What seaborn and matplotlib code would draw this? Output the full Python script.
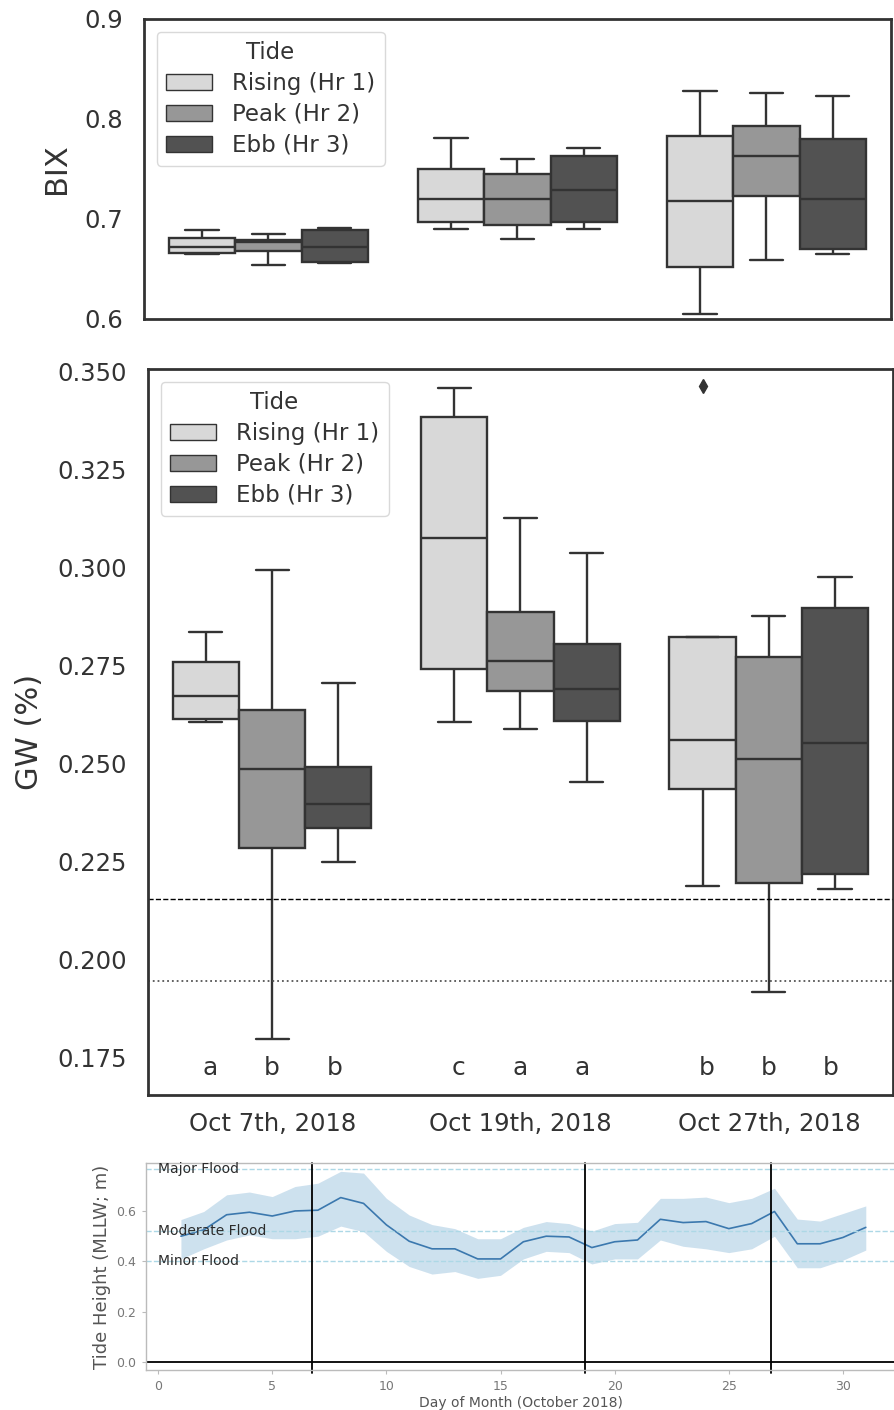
import numpy as np
import pandas as pd
import matplotlib
matplotlib.use("Agg")
import matplotlib.pyplot as plt
import seaborn as sns

# categories
dates = ["Oct 7th, 2018", "Oct 19th, 2018", "Oct 27th, 2018"]
tides = ["Rising (Hr 1)", "Peak (Hr 2)", "Ebb (Hr 3)"]
tide_colors = ["#d8d8d8", "#979797", "#525252"]

# BIX box summaries per date: (lower whisker, q1, median, q3, upper whisker)
bix_rising = [(0.6647, 0.6657, 0.6717, 0.6807, 0.6887),
              (0.6897, 0.6967, 0.7200, 0.7500, 0.7807),
              (0.6050, 0.6523, 0.7180, 0.7833, 0.8283)]
bix_peak = [(0.6540, 0.6680, 0.6770, 0.6790, 0.6850),
            (0.6797, 0.6940, 0.7200, 0.7450, 0.7597),
            (0.6590, 0.7233, 0.7633, 0.7933, 0.8263)]
bix_ebb = [(0.6557, 0.6573, 0.6717, 0.6890, 0.6907),
           (0.6897, 0.6970, 0.7290, 0.7633, 0.7707),
           (0.6650, 0.6697, 0.7200, 0.7800, 0.8230)]

# GW box summaries per date
gw_rising = [(0.2605, 0.2612, 0.2673, 0.2758, 0.2836),
             (0.2605, 0.2740, 0.3075, 0.3385, 0.3459),
             (0.2187, 0.2434, 0.2560, 0.2822, 0.2822)]
gw_peak = [(0.1795, 0.2285, 0.2485, 0.2636, 0.2994),
           (0.2588, 0.2685, 0.2762, 0.2886, 0.3127),
           (0.1915, 0.2194, 0.2511, 0.2771, 0.2877)]
gw_ebb = [(0.2249, 0.2336, 0.2395, 0.2490, 0.2704),
          (0.2453, 0.2609, 0.2690, 0.2805, 0.3038),
          (0.2178, 0.2217, 0.2551, 0.2896, 0.2977)]
gw_outliers = {("Oct 27th, 2018", "Rising (Hr 1)"): 0.3464}

gw_letters = [["a", "b", "b"], ["c", "a", "a"], ["b", "b", "b"]]
gw_dashed = 0.2154
gw_dotted = 0.1945

# tide record, October 2018
days = list(range(1, 32))
tide_mean = [0.50, 0.525, 0.585, 0.595, 0.58, 0.60, 0.603, 0.653, 0.63, 0.545,
             0.48, 0.45, 0.45, 0.41, 0.41, 0.478, 0.50, 0.497, 0.455, 0.478,
             0.485, 0.567, 0.554, 0.558, 0.53, 0.55, 0.598, 0.47, 0.47, 0.495,
             0.535]
tide_hi = [0.566, 0.598, 0.664, 0.675, 0.657, 0.697, 0.71, 0.757, 0.75, 0.65,
           0.584, 0.546, 0.53, 0.49, 0.49, 0.535, 0.558, 0.55, 0.52, 0.55,
           0.555, 0.65, 0.65, 0.655, 0.633, 0.65, 0.69, 0.568, 0.56, 0.59,
           0.62]
tide_lo = [0.41, 0.45, 0.485, 0.505, 0.49, 0.49, 0.50, 0.54, 0.518, 0.44,
           0.38, 0.35, 0.36, 0.333, 0.345, 0.41, 0.44, 0.435, 0.39, 0.41,
           0.41, 0.485, 0.46, 0.45, 0.435, 0.45, 0.50, 0.375, 0.375, 0.405,
           0.445]
flood_levels = {"Major Flood": 0.767, "Moderate Flood": 0.52, "Minor Flood": 0.40}
sample_days = [6.75, 18.7, 26.85]


def to_long(stats_by_tide, outliers=None):
    # rebuild samples whose quartiles match the summaries (9 points -> q at idx 2/4/6)
    rows = []
    for tide, stats in zip(tides, stats_by_tide):
        for date, (lo, q1, med, q3, hi) in zip(dates, stats):
            vals = [lo, q1, q1, med, med, med, q3, q3, hi]
            if outliers and (date, tide) in outliers:
                vals = [lo, q1, q1, med, med, med, q3, hi, outliers[(date, tide)]]
            rows += [(date, tide, v) for v in vals]
    return pd.DataFrame(rows, columns=["date", "Tide", "value"])


bix_df = to_long([bix_rising, bix_peak, bix_ebb])
gw_df = to_long([gw_rising, gw_peak, gw_ebb], gw_outliers)

sns.set_style("white")
plt.rcParams["font.family"] = ["DejaVu Sans"]
dark = "#333333"

fig = plt.figure(figsize=(8.95, 14.10), dpi=100)
ax1 = fig.add_axes([144 / 895, 1 - 319 / 1410, 747 / 895, 300 / 1410])
ax2 = fig.add_axes([148 / 895, 1 - 1095 / 1410, 745 / 895, 726 / 1410])
ax3 = fig.add_axes([146 / 895, 1 - 1370 / 1410, 749 / 895, 207 / 1410])

box_kw = dict(x="date", y="value", hue="Tide", order=dates, hue_order=tides,
              palette=tide_colors, linecolor=dark, linewidth=1.7, width=0.8,
              whis=1.5, flierprops=dict(marker="d", markerfacecolor=dark,
                                        markeredgecolor=dark, markersize=7))

# BIX
sns.boxplot(data=bix_df, ax=ax1, **box_kw)
ax1.set_ylim(0.6, 0.9)
ax1.set_yticks([0.6, 0.7, 0.8, 0.9])
ax1.set_xlabel("")
ax1.set_xticklabels([])
ax1.set_ylabel("BIX", fontsize=22, color=dark, labelpad=10)

# GW
sns.boxplot(data=gw_df, ax=ax2, **box_kw)
ax2.axhline(gw_dashed, color="black", ls="--", lw=1)
ax2.axhline(gw_dotted, color="#555555", ls=":", lw=1.3)
for i, letters in enumerate(gw_letters):
    for j, letter in enumerate(letters):
        ax2.text(i + (j - 1) * 0.25, 0.1722, letter, ha="center", va="center",
                 fontsize=18, color=dark)
ax2.set_ylim(0.1653, 0.3507)
ax2.set_yticks(np.arange(0.175, 0.351, 0.025))
ax2.set_yticklabels([f"{t:.3f}" for t in np.arange(0.175, 0.351, 0.025)])
ax2.set_xlabel("")
ax2.set_ylabel("GW (%)", fontsize=22, color=dark, labelpad=10)

for ax in (ax1, ax2):
    ax.tick_params(axis="both", length=0, labelsize=17.5, labelcolor=dark)
    ax.tick_params(axis="y", pad=15)
    ax.tick_params(axis="x", pad=12)
    for sp in ax.spines.values():
        sp.set_color(dark)
        sp.set_linewidth(2)
    sns.move_legend(ax, "upper left", title="Tide", fontsize=16.5,
                    title_fontsize=16.5, frameon=True, borderaxespad=0.55,
                    labelspacing=0.35, handletextpad=0.9)
    leg = ax.get_legend()
    leg.get_frame().set_edgecolor("#d0d0d0")
    for t in leg.get_texts():
        t.set_color(dark)
    leg.get_title().set_color(dark)
    for h in leg.legend_handles:
        h.set_linewidth(1)

# tide height
ax3.fill_between(days, tide_lo, tide_hi, color="#1f77b4", alpha=0.22, lw=0)
sns.lineplot(x=days, y=tide_mean, ax=ax3, color="#3b78ae", lw=1.2)
for name, level in flood_levels.items():
    ax3.axhline(level, color="#add8e6", ls="--", lw=1)
    ax3.text(0, level, name, ha="left", va="center", fontsize=10, color="#2b2b2b")
for d in sample_days:
    ax3.axvline(d, ymin=-0.015, ymax=1, color="black", lw=1.3, clip_on=False)
ax3.axhline(0, color="black", lw=1.3)
ax3.set_xlim(-0.53, 32.28)
ax3.set_ylim(-0.03, 0.79)
ax3.set_xticks([0, 5, 10, 15, 20, 25, 30])
ax3.set_yticks([0.0, 0.2, 0.4, 0.6])
ax3.set_xlabel("Day of Month (October 2018)", fontsize=10, color="#555555", labelpad=2)
ax3.set_ylabel("Tide Height (MLLW; m)", fontsize=13, color="#555555", labelpad=4)
ax3.tick_params(axis="both", labelsize=9, labelcolor="#777777", length=3,
                color="#bbbbbb", pad=4, left=True, bottom=True)
for sp in ax3.spines.values():
    sp.set_color("#bbbbbb")
    sp.set_linewidth(1)
ax3.spines["right"].set_visible(False)

fig.savefig("out.png", dpi=100)
